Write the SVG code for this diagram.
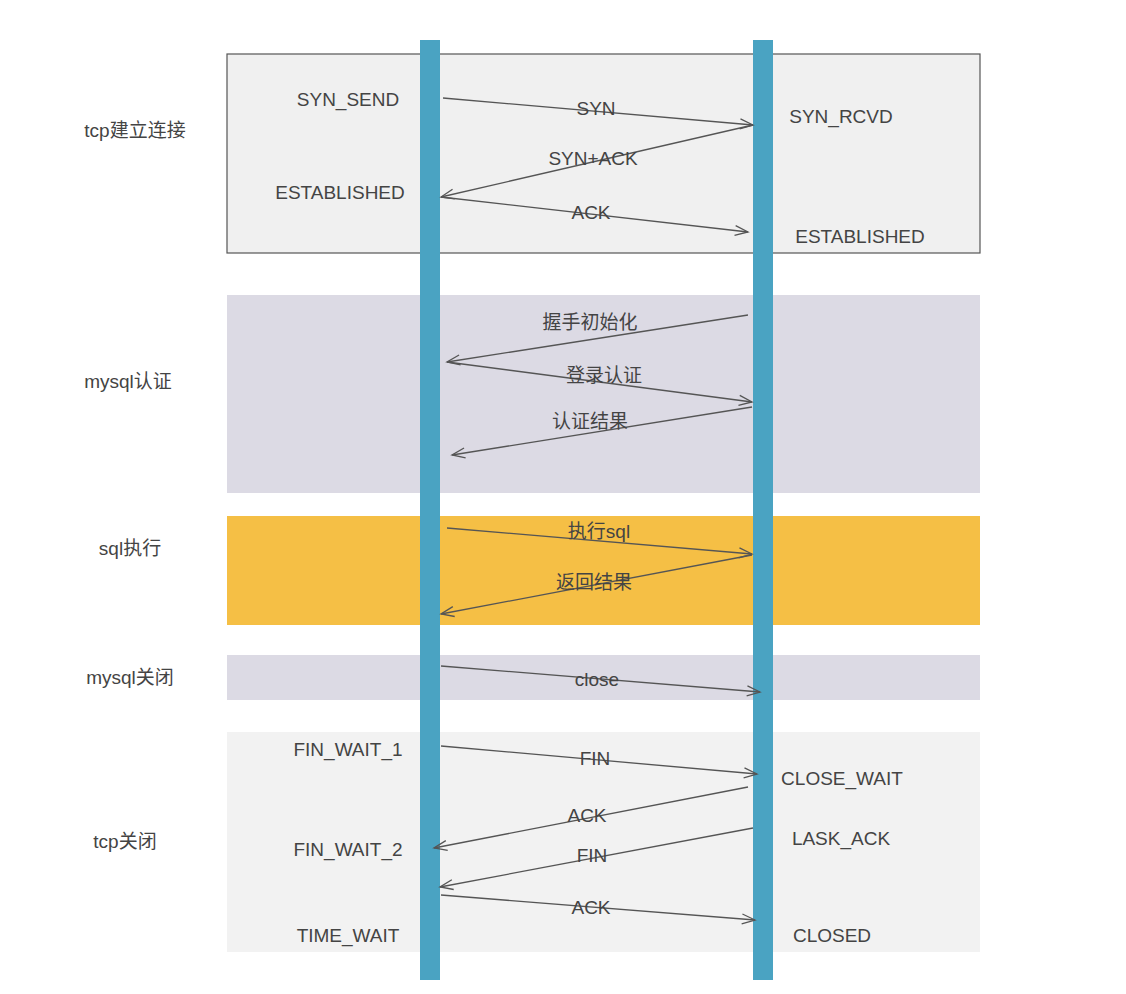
<svg xmlns="http://www.w3.org/2000/svg" width="1126" height="994" viewBox="0 0 1126 994">
<style>
text{font-family:"Liberation Sans",Arial,"Noto Sans CJK SC",sans-serif;font-size:19px;fill:#444}
.c{text-anchor:middle}
.a{stroke:#555;stroke-width:1.3;fill:none;marker-end:url(#ah)}
.life{fill:#4aa3c2}
</style>
<defs><marker id="ah" markerWidth="16" markerHeight="12" refX="14" refY="6" orient="auto" markerUnits="userSpaceOnUse"><path d="M1,1 L14,6 L1,11" fill="none" stroke="#555" stroke-width="1.3"/></marker></defs>
<rect width="1126" height="994" fill="#fff"/>
<g id="phase-tcp-open"><rect x="227" y="54" width="753" height="199" fill="#f0f0f0" stroke="#555" stroke-width="1.2"/><text x="135" y="137" class="c">tcp建立连接</text></g>
<g id="phase-mysql-auth"><rect x="227" y="295" width="753" height="198" fill="#dcdae4"/><text x="128" y="388" class="c">mysql认证</text></g>
<g id="phase-sql"><rect x="227" y="516" width="753" height="109" fill="#f5bf45"/><text x="130" y="555" class="c">sql执行</text></g>
<g id="phase-mysql-close"><rect x="227" y="655" width="753" height="45" fill="#dcdae4"/><text x="130" y="684" class="c">mysql关闭</text></g>
<g id="phase-tcp-close"><rect x="227" y="732" width="753" height="220" fill="#f2f2f2"/><text x="125" y="848" class="c">tcp关闭</text></g>
<g id="client"><rect x="420" y="40" width="20" height="940" class="life"/></g>
<g id="server"><rect x="753" y="40" width="20" height="940" class="life"/></g>
<g id="states">
<text x="348" y="106" class="c">SYN_SEND</text>
<text x="340" y="199" class="c">ESTABLISHED</text>
<text x="841" y="123" class="c">SYN_RCVD</text>
<text x="860" y="243" class="c">ESTABLISHED</text>
<text x="348" y="756" class="c">FIN_WAIT_1</text>
<text x="348" y="856" class="c">FIN_WAIT_2</text>
<text x="348" y="942" class="c">TIME_WAIT</text>
<text x="842" y="785" class="c">CLOSE_WAIT</text>
<text x="841" y="845" class="c">LASK_ACK</text>
<text x="832" y="942" class="c">CLOSED</text>
</g>
<g id="connectors">
<path class="a" d="M443,98 L753,125"/>
<path class="a" d="M753,125 L441,197"/>
<path class="a" d="M441,197 L748,232"/>
<path class="a" d="M748,315 L447,362"/>
<path class="a" d="M447,362 L752,402"/>
<path class="a" d="M752,407 L452,455"/>
<path class="a" d="M447,528 L752,554"/>
<path class="a" d="M752,555 L441,614"/>
<path class="a" d="M441,666 L760,692"/>
<path class="a" d="M441,746 L757,774"/>
<path class="a" d="M748,787 L434,848"/>
<path class="a" d="M753,828 L440,887"/>
<path class="a" d="M441,895 L755,920"/>
<text x="596" y="115" class="c">SYN</text>
<text x="593" y="165" class="c">SYN+ACK</text>
<text x="591" y="219" class="c">ACK</text>
<text x="590" y="329" class="c">握手初始化</text>
<text x="604" y="382" class="c">登录认证</text>
<text x="590" y="428" class="c">认证结果</text>
<text x="599" y="538" class="c">执行sql</text>
<text x="594" y="589" class="c">返回结果</text>
<text x="597" y="686" class="c">close</text>
<text x="595" y="765" class="c">FIN</text>
<text x="587" y="822" class="c">ACK</text>
<text x="592" y="862" class="c">FIN</text>
<text x="591" y="914" class="c">ACK</text>
</g>
</svg>
